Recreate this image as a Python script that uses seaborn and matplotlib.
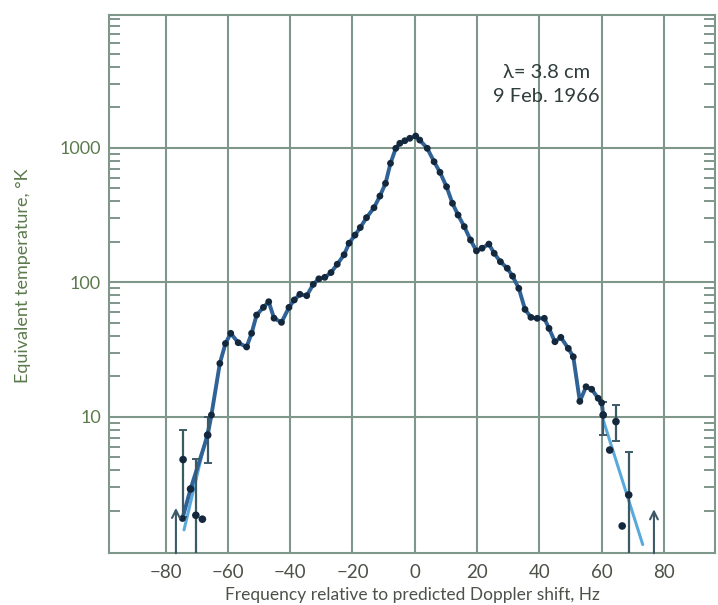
import numpy as np
import pandas as pd
import matplotlib
matplotlib.use("Agg")
import matplotlib.pyplot as plt
from matplotlib.ticker import LogLocator, NullFormatter, FixedLocator, FixedFormatter
import seaborn as sns

# Main spectrum: frequency offset (Hz) and equivalent temperature (K)
freq_main = [-74.6, -72.0, -66.5, -65.3, -62.6, -60.8, -59.1, -56.7, -54.0, -52.4,
             -50.8, -48.6, -46.9, -45.2, -42.8, -40.4, -38.7, -36.9, -34.7, -32.6,
             -30.8, -28.9, -26.9, -24.9, -22.7, -21.1, -19.2, -17.5, -15.5, -13.1,
             -11.2, -9.4, -7.8, -6.1, -4.8, -3.2, -1.6, 0.3, 1.6, 4.0,
             6.2, 8.1, 10.2, 12.1, 13.9, 15.9, 17.9, 19.8, 21.6, 23.8,
             25.5, 27.5, 29.7, 31.4, 33.4, 35.4, 37.3, 39.3, 41.6, 43.1,
             45.0, 46.9, 49.3, 50.9, 53.0, 55.0, 56.8, 58.9, 60.0, 60.5]
temp_main = [1.75, 2.9, 7.3, 10.3, 24.9, 35, 41.7, 35.5, 33, 41.7,
             57, 65, 71.6, 54, 50.3, 65, 73.8, 81.3, 79.4, 96.4,
             106, 108.7, 118, 136, 160, 195, 224, 255, 302, 358,
             437, 543, 766, 990, 1078, 1127, 1175, 1222, 1140, 990,
             787, 656, 513, 386, 316, 259, 206, 171, 179, 192,
             164, 142, 127, 111, 90, 62.8, 54.8, 53.9, 53.9, 45.4,
             36.1, 38.9, 32.2, 27.9, 13.0, 16.7, 16.0, 13.7, 12.7, 10.3]

# Weak wing points with error bars
freq_err = [-74.4, -70.3, -66.5, 60.5, 64.6, 68.7]
temp_err = [4.8, 1.85, 7.3, 10.3, 9.2, 2.62]
temp_err_lo = [1.8, 0.9, 4.5, 7.3, 6.6, 0.9]
temp_err_hi = [7.9, 4.85, 10.0, 12.9, 12.2, 5.5]

# Isolated wing points
freq_pts = [-72.0, -68.2, 62.6, 66.6]
temp_pts = [2.9, 1.73, 5.65, 1.54]

# Straight-line fits to the wings
fit_left_f = [-74.1, -65.3]
fit_left_t = [1.44, 10.3]
fit_right_f = [60.0, 73.2]
fit_right_t = [10.3, 1.12]

# Limb frequency markers
limb_f = [-76.7, 76.8]
limb_t = [2.1, 2.05]

x_ticks = [-80, -60, -40, -20, 0, 20, 40, 60, 80]
x_tick_labels = ["\u221280", "\u221260", "\u221240", "\u221220", "0", "20", "40", "60", "80"]
y_ticks = [10, 100, 1000]
y_tick_labels = ["10", "100", "1000"]

sns.set_style("white")
plt.rcParams["font.family"] = ["Lato", "DejaVu Sans"]

fig = plt.figure(figsize=(7.18, 6.05), dpi=100)
ax = fig.add_axes([0.1522, 0.0855, 0.8436, 0.8897])

grid_c = "#7f968a"
ax.set_yscale("log")
ax.set_xlim(-98.1, 96.4)
ax.set_ylim(0.965, 9700)

for xv in x_ticks:
    ax.axvline(xv, color=grid_c, lw=1.5, zorder=1)
for yv in y_ticks:
    ax.axhline(yv, color=grid_c, lw=1.5, zorder=1)

df_main = pd.DataFrame({"f": freq_main, "T": temp_main})
df_fl = pd.DataFrame({"f": fit_left_f, "T": fit_left_t})
df_fr = pd.DataFrame({"f": fit_right_f, "T": fit_right_t})

sns.lineplot(data=df_fl, x="f", y="T", color="#5aa9dc", lw=2.2, ax=ax, zorder=3, sort=False)
sns.lineplot(data=df_fr, x="f", y="T", color="#5aa9dc", lw=2.2, ax=ax, zorder=3, sort=False)
sns.lineplot(data=df_main, x="f", y="T", color="#2f6296", lw=2.8, ax=ax, zorder=4, sort=False)
sns.scatterplot(data=df_main, x="f", y="T", color="#14283d", s=24, edgecolor="none", ax=ax, zorder=5)

err_c = "#3c5a66"
ax.errorbar(freq_err, temp_err,
            yerr=[np.array(temp_err) - np.array(temp_err_lo), np.array(temp_err_hi) - np.array(temp_err)],
            fmt="none", ecolor=err_c, elinewidth=1.6, capsize=3, capthick=1.4, zorder=4)
sns.scatterplot(x=freq_err, y=temp_err, color="#14283d", s=30, edgecolor="none", ax=ax, zorder=6)
sns.scatterplot(x=freq_pts, y=temp_pts, color="#14283d", s=30, edgecolor="none", ax=ax, zorder=6)

for f, t in zip(limb_f, limb_t):
    ax.annotate("", xy=(f, t), xytext=(f, 0.965),
                arrowprops=dict(arrowstyle="->", color=err_c, lw=1.5, mutation_scale=14,
                                shrinkA=0, shrinkB=0),
                zorder=6)

ax.text(42.3, 2950, "\u03bb= 3.8 cm\n9 Feb. 1966", ha="center", va="center",
        fontsize=14.5, color="#2f3d3c", linespacing=1.5)

ax.xaxis.set_major_locator(FixedLocator(x_ticks))
ax.xaxis.set_major_formatter(FixedFormatter(x_tick_labels))
ax.yaxis.set_major_locator(FixedLocator(y_ticks))
ax.yaxis.set_major_formatter(FixedFormatter(y_tick_labels))
ax.yaxis.set_minor_locator(LogLocator(base=10, subs=np.arange(2, 10)))
ax.yaxis.set_minor_formatter(NullFormatter())

ax.tick_params(axis="x", which="major", length=0, pad=8, labelsize=13.5, labelcolor="#4c5248")
ax.tick_params(axis="y", which="major", length=0, pad=6, labelsize=13, labelcolor="#5b7a4c")
ax.tick_params(axis="y", which="minor", direction="in", length=8, width=1.4,
               color=grid_c, left=True, right=True)

for s in ax.spines.values():
    s.set_color(grid_c)
    s.set_linewidth(1.5)

ax.set_xlabel("Frequency relative to predicted Doppler shift, Hz", fontsize=12.5,
              color="#4c5248", labelpad=4)
ax.set_ylabel("Equivalent temperature, \u00b0K", fontsize=13, color="#5b7a4c")
ax.yaxis.set_label_coords(-0.13, 0.515)

fig.savefig("out.png", dpi=100)
